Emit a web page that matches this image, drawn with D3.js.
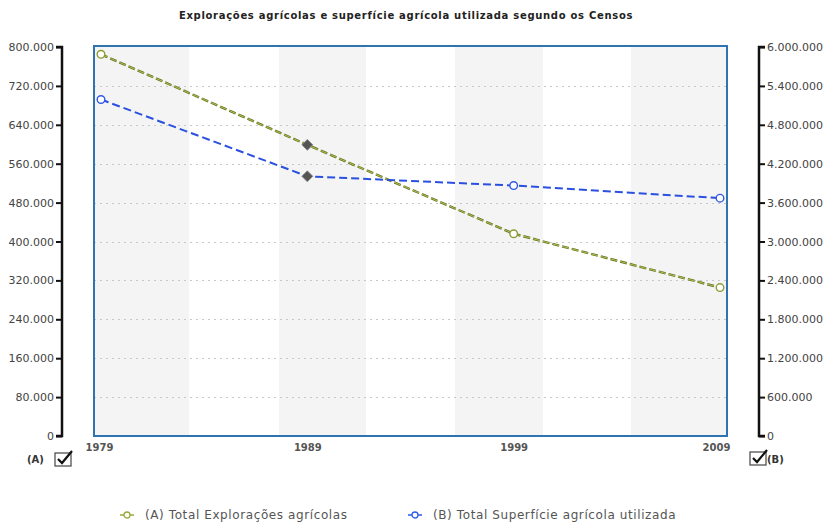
<!DOCTYPE html>
<html><head><meta charset="utf-8">
<script src="https://cdn.jsdelivr.net/npm/d3@7/dist/d3.min.js"></script>
<style>body{margin:0;background:#fff}svg{display:block}</style>
</head><body>
<svg id="c" width="826" height="523"></svg>
<script>
const years = ["1979","1989","1999","2009"];
const seriesA = [785000, 598742, 415969, 305266];      // Total Explorações agrícolas (left axis)
const seriesB = [5190000, 4005573, 3863094, 3668145];  // Total Superfície agrícola utilizada (right axis)
const leftTicks = [0,80000,160000,240000,320000,400000,480000,560000,640000,720000,800000];
const rightTicks = [0,600000,1200000,1800000,2400000,3000000,3600000,4200000,4800000,5400000,6000000];
const title = "Explorações agrícolas e superfície agrícola utilizada segundo os Censos";
const legendLabels = ["(A) Total Explorações agrícolas","(B) Total Superfície agrícola utilizada"];
const highlightIndex = 1;

const svg = d3.select("#c");
const L = 94, R = 727, T = 47, B = 436;
const locale = d3.formatLocale({decimal:",", thousands:".", grouping:[3], currency:["",""]});
const fmt = locale.format(",d");

const x = d3.scalePoint().domain(years).range([L+7, R-7]);
const yL = d3.scaleLinear().domain([0,800000]).range([B,T]);
const yR = d3.scaleLinear().domain([0,6000000]).range([B,T]);

// title
svg.append("text").attr("x",406).attr("y",19).attr("text-anchor","middle")
  .attr("font-family","DejaVu Sans").attr("font-weight","bold").attr("font-size",10)
  .attr("letter-spacing",0.7).attr("fill","#222").text(title);

// stripes
const bandEdges = [L, 189, 279, 366, 455, 543, 631, R];
const bands = d3.range(bandEdges.length-1);
svg.append("g").selectAll("rect").data(bands.filter(i=>i%2===0)).join("rect")
  .attr("x",i=>bandEdges[i]).attr("y",T-1).attr("width",i=>bandEdges[i+1]-bandEdges[i]).attr("height",B-T+1).attr("fill","#f4f4f4");

// gridlines
svg.append("g").selectAll("line").data(leftTicks.filter(t=>t>0&&t<800000)).join("line")
  .attr("x1",L).attr("x2",R).attr("y1",d=>Math.round(yL(d))+0.5).attr("y2",d=>Math.round(yL(d))+0.5)
  .attr("stroke","#c8c8c8").attr("stroke-dasharray","2,4").attr("stroke-width",1);

// frame
svg.append("rect").attr("x",L).attr("y",T-1).attr("width",R-L).attr("height",B-T+1)
  .attr("fill","none").attr("stroke","#2f74b0").attr("stroke-width",2);

// axes
const gl = svg.append("g").attr("transform","translate(62,0)")
  .call(d3.axisLeft(yL).tickValues(leftTicks).tickFormat(fmt).tickSize(6).tickPadding(2));
const gr = svg.append("g").attr("transform","translate(759,0)")
  .call(d3.axisRight(yR).tickValues(rightTicks).tickFormat(fmt).tickSize(6).tickPadding(2));
[gl,gr].forEach(g=>{
  g.select(".domain").attr("stroke","#111").attr("stroke-width",2.5);
  g.selectAll(".tick line").attr("stroke","#111").attr("stroke-width",2);
  g.selectAll("text").attr("font-family","DejaVu Sans").attr("font-size",11).attr("fill","#444");
});
gl.select(".domain").attr("d",`M-6,${B}H0V${T}H-6`);
gr.select(".domain").attr("d",`M6,${B}H0V${T}H6`);

// x labels
const gx = svg.append("g").attr("transform",`translate(0,${B})`)
  .call(d3.axisBottom(x).tickSize(0).tickPadding(8));
gx.select(".domain").remove();
gx.selectAll("text").attr("font-family","DejaVu Sans").attr("font-weight","bold").attr("font-size",10).attr("fill","#555");
gx.selectAll(".tick").filter(d=>d==="1979").select("text").attr("dx",-2);
gx.selectAll(".tick").filter(d=>d==="2009").select("text").attr("dx",-4);

// lines
const colB = "#2a50e0";
const lineA = d3.line().x((d,i)=>x(years[i])).y(d=>yL(d));
const lineB = d3.line().x((d,i)=>x(years[i])).y(d=>yR(d));
svg.append("path").datum(seriesA).attr("d",lineA).attr("fill","none").attr("stroke","#66731f").attr("stroke-width",2.4).attr("stroke-dasharray","7,3");
svg.append("path").datum(seriesA).attr("d",lineA).attr("fill","none").attr("stroke","#b9c65a").attr("stroke-width",0.9).attr("stroke-dasharray","7,3");
svg.append("path").datum(seriesB).attr("d",lineB).attr("fill","none").attr("stroke",colB).attr("stroke-width",2).attr("stroke-dasharray","8,4");

function markers(data, ys, col){
  const g = svg.append("g");
  data.forEach((v,i)=>{
    if(i===highlightIndex){
      g.append("path").attr("d",d3.symbol(d3.symbolSquare,60)())
        .attr("transform",`translate(${x(years[i])},${ys(v)}) rotate(45)`).attr("fill","#555").attr("stroke","#888").attr("stroke-width",0.8);
    } else {
      g.append("circle").attr("cx",x(years[i])).attr("cy",ys(v)).attr("r",3.8)
        .attr("fill","#fff").attr("stroke",col).attr("stroke-width",1.4);
    }
  });
}
markers(seriesA, yL, "#8f9c35");
markers(seriesB, yR, "#2f5ae8");

// checkboxes
function checkbox(cx, cy){
  const g = svg.append("g").attr("transform",`translate(${cx},${cy})`);
  g.append("rect").attr("x",0).attr("y",0).attr("width",16).attr("height",13).attr("fill","#fff").attr("stroke","#444").attr("stroke-width",1.2);
  g.append("path").attr("d","M3,6 L7,10 L17,-2").attr("fill","none").attr("stroke","#111").attr("stroke-width",2.2);
}
svg.append("text").attr("x",27).attr("y",463).attr("font-family","DejaVu Sans").attr("font-weight","bold").attr("font-size",10).attr("fill","#333").text("(A)");
checkbox(55,453);
checkbox(750,452);
svg.append("text").attr("x",767).attr("y",463).attr("font-family","DejaVu Sans").attr("font-weight","bold").attr("font-size",10).attr("fill","#333").text("(B)");

// legend
const legX = [120, 408], legC = ["#9aa83a", "#2f5ae8"];
legendLabels.forEach((t,i)=>{
  const g = svg.append("g").attr("transform",`translate(${legX[i]},515)`);
  g.append("line").attr("x1",0).attr("x2",14).attr("y1",0).attr("y2",0).attr("stroke",legC[i]).attr("stroke-width",1.5);
  g.append("circle").attr("cx",7).attr("cy",0).attr("r",3).attr("fill","#fff").attr("stroke",legC[i]).attr("stroke-width",1.3);
  g.append("text").attr("x",25).attr("y",4).attr("font-family","DejaVu Sans").attr("font-size",12).attr("letter-spacing",0.6).attr("fill","#555").text(t);
});
</script>
</body></html>
